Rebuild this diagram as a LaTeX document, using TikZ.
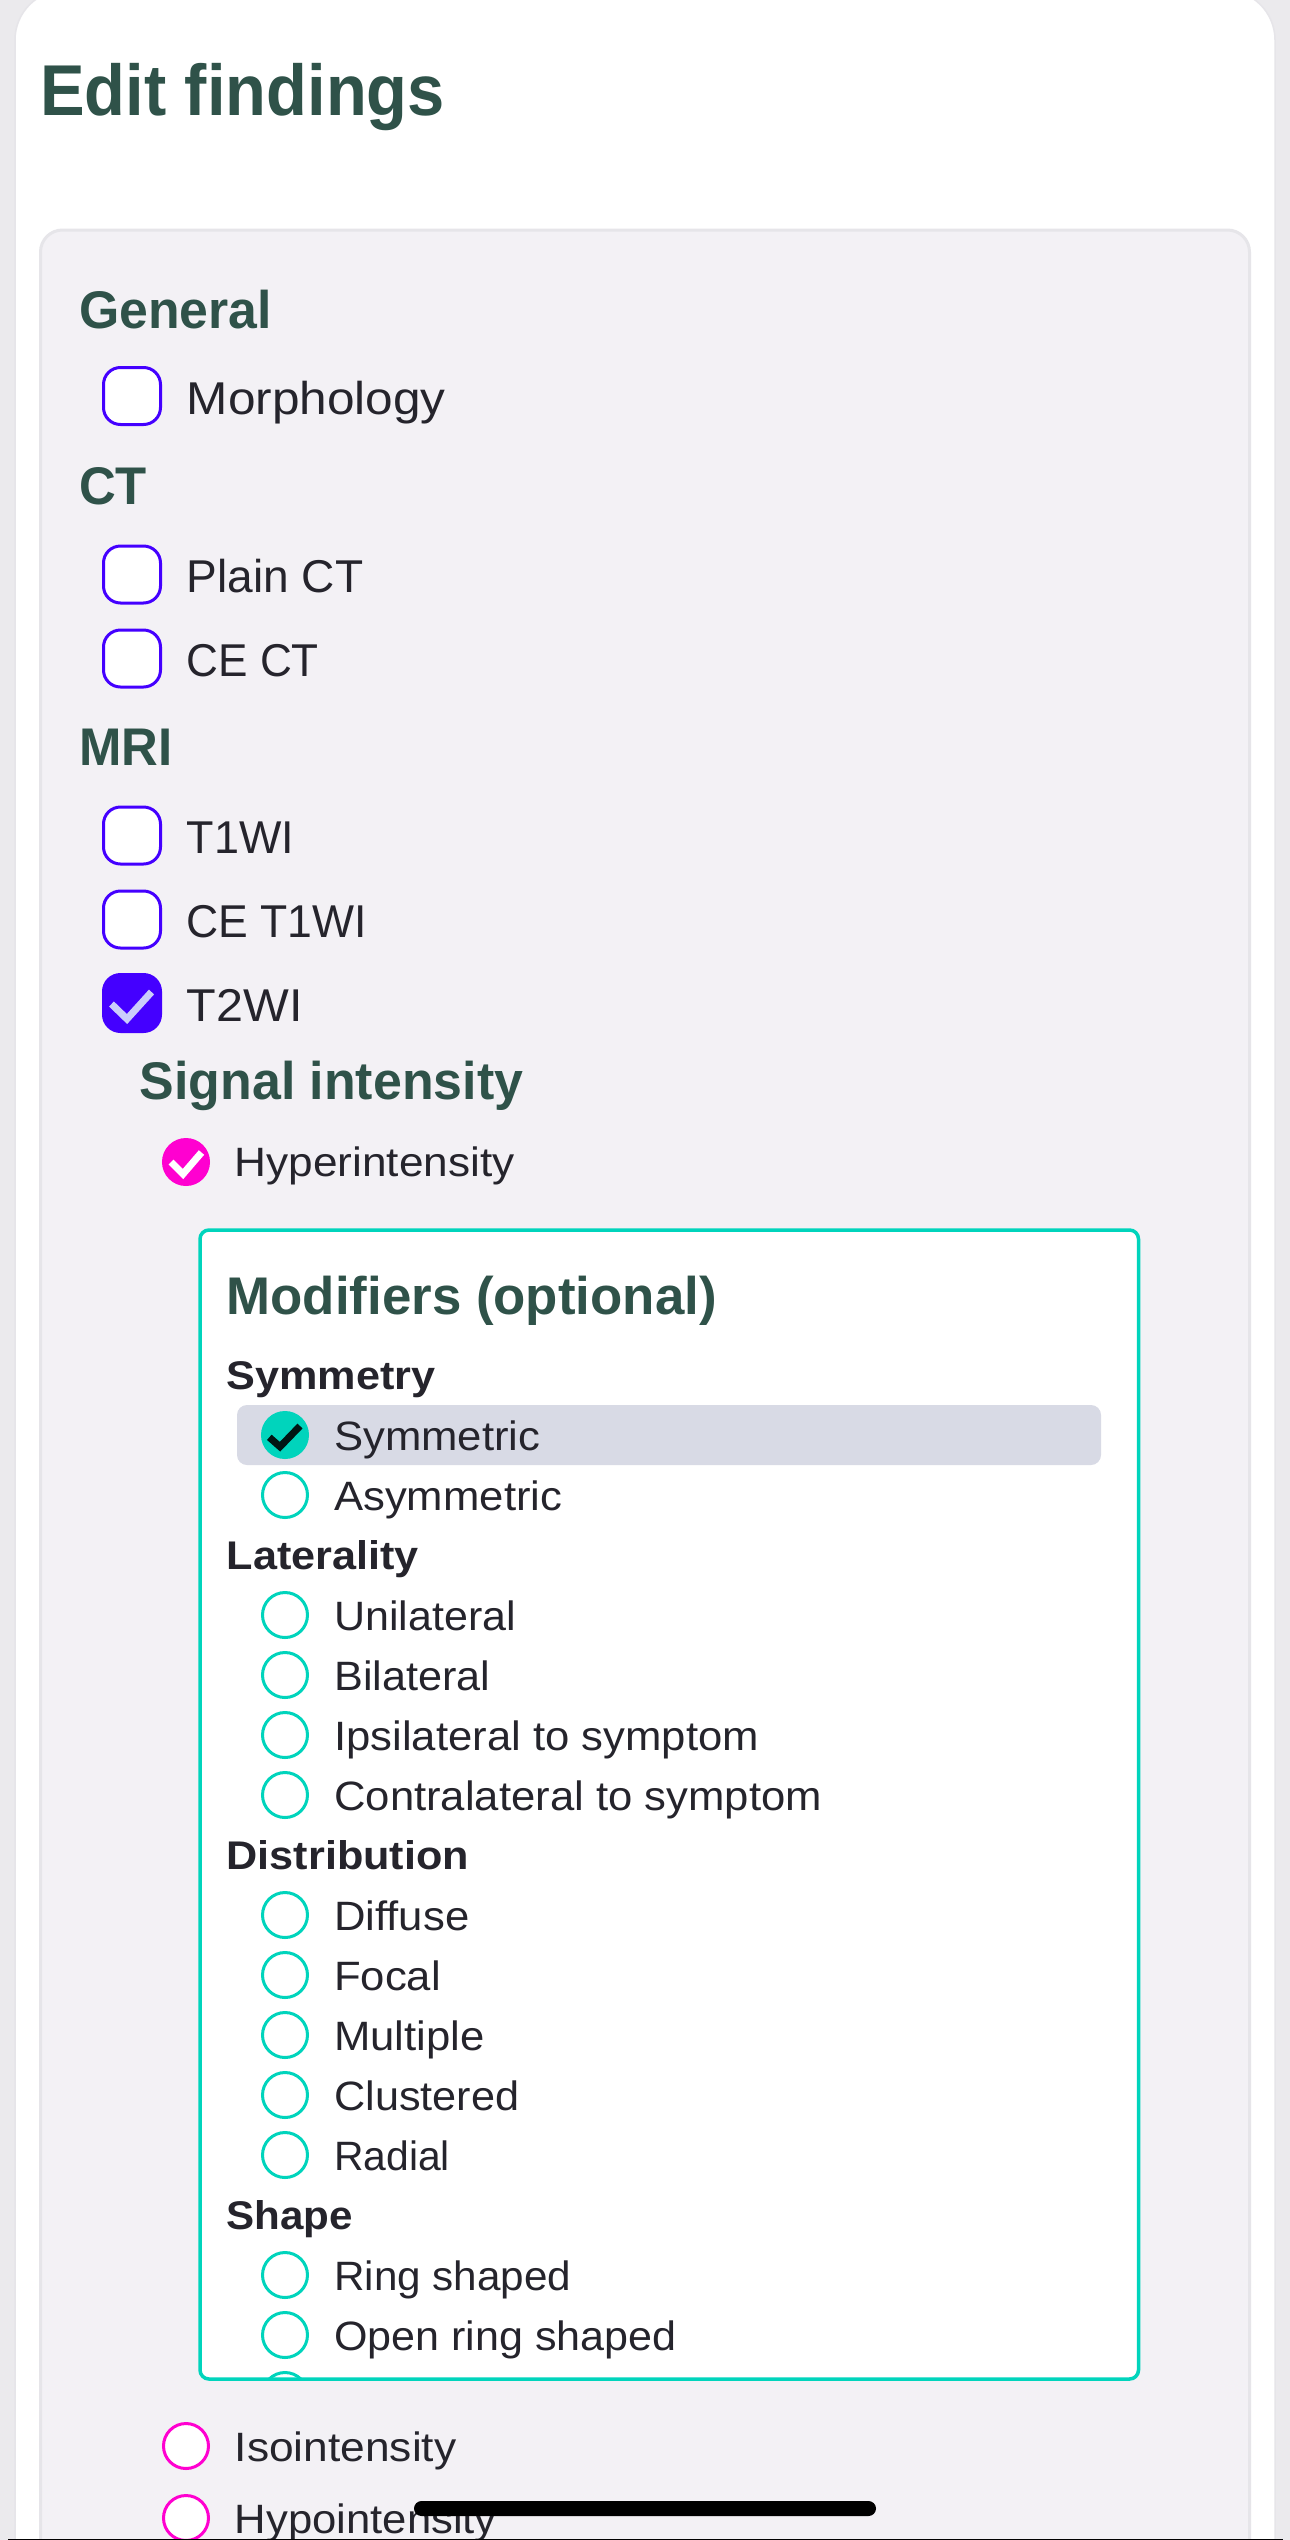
\documentclass[tikz,border=0pt]{standalone}
\usepackage{fontspec}
\setmainfont{Liberation Sans}
\newfontfamily\regf[FakeStretch=1.065]{Liberation Sans}
\newfontfamily\headf[FakeStretch=.96]{Liberation Sans}
\newfontfamily\subf[FakeStretch=1.08]{Liberation Sans}
\definecolor{pagebg}{HTML}{EBEAED}
\definecolor{panelbg}{HTML}{F3F1F5}
\definecolor{panelline}{HTML}{E6E5E9}
\definecolor{headgreen}{HTML}{2F5249}
\definecolor{txt}{HTML}{25242C}
\definecolor{indigo}{HTML}{4400FF}
\definecolor{lav}{HTML}{CBCDFB}
\definecolor{mag}{HTML}{FF00D0}
\definecolor{teal}{HTML}{00D4BC}
\definecolor{hilite}{HTML}{D8DAE5}
\tikzset{
  x=1pt,y=-1pt,
  xs/.style={xscale=#1,transform shape},
  title/.style={anchor=base west,inner sep=0pt,text=headgreen,font=\headf\bfseries\fontsize{72}{72}\selectfont},
  head/.style={anchor=base west,inner sep=0pt,text=headgreen,font=\headf\bfseries\fontsize{53}{53}\selectfont},
  subhead/.style={anchor=base west,inner sep=0pt,text=txt,font=\subf\bfseries\fontsize{40}{40}\selectfont},
  biglabel/.style={anchor=base west,inner sep=0pt,text=txt,font=\regf\fontsize{46}{46}\selectfont},
  smalllabel/.style={anchor=base west,inner sep=0pt,text=txt,font=\regf\fontsize{41}{41}\selectfont},
  checkbox/.style={draw=indigo,line width=3pt,fill=white,rounded corners=17pt,minimum width=57pt,minimum height=57pt,inner sep=0pt,outer sep=0pt},
  checkedbox/.style={checkbox,fill=indigo},
  magradio/.style={circle,draw=mag,line width=3pt,fill=white,minimum size=45pt,inner sep=0pt,outer sep=0pt},
  magon/.style={magradio,fill=mag},
  tealradio/.style={circle,draw=teal,line width=3pt,fill=white,minimum size=45pt,inner sep=0pt,outer sep=0pt},
  tealon/.style={tealradio,fill=teal},
  tick/.style={line width=7pt,line cap=butt,line join=miter},
}
\newcommand{\radiorow}[4][]{% options, name, y centre, label
  \node[tealradio] (#2box) at (285,#3) {};
  \node[smalllabel,#1] (#2) at (334,#3+15) {#4};
}
\begin{document}
\begin{tikzpicture}
\useasboundingbox (0,0) rectangle (1290,2540);
\fill[pagebg] (0,0) rectangle (1290,2540);
% card
\path[fill=white,draw=panelline,line width=1.5pt,rounded corners=50pt] (15,-10) rectangle (1275,2600);
% panel
\path[fill=panelbg,draw=panelline,line width=3pt,rounded corners=22pt] (40.5,230) rectangle (1249.5,2600);

\node[title,xs=.967] (edit) at (40,115) {Edit findings};

\node[head,xs=1.017] (general) at (79,328) {General};
\node[checkbox] (morphbox) at (132,396) {};
\node[biglabel,xs=1.012] (morph) at (186.5,414.5) {Morphology};

\node[head] (ct) at (79,504.5) {CT};
\node[checkbox] (plainbox) at (132,574.5) {};
\node[biglabel,xs=.94] (plain) at (186.5,592.5) {Plain CT};
\node[checkbox] (cebox) at (132,658.5) {};
\node[biglabel,xs=.9] (cect) at (186.5,676.5) {CE CT};

\node[head] (mri) at (79,765.5) {MRI};
\node[checkbox] (t1box) at (132,835.5) {};
\node[biglabel,xs=.917] (t1) at (186.5,853.5) {T1WI};
\node[checkbox] (cet1box) at (132,919.5) {};
\node[biglabel,xs=.908] (cet1) at (186.5,937.5) {CE T1WI};
\node[checkedbox] (t2box) at (132,1003) {};
\node[biglabel,xs=.99] (t2) at (186.5,1021) {T2WI};
\draw[tick,draw=lav] ([shift={(-20.5,1)}]t2box.center) -- ([shift={(-5,16)}]t2box.center) -- ([shift={(19.5,-11)}]t2box.center);

\node[head,xs=1.02] (signal) at (139.5,1099) {Signal intensity};
\node[magon] (hyperbox) at (186,1162) {};
\draw[tick,draw=white] ([shift={(-15,0)}]hyperbox.center) -- ([shift={(-3,12)}]hyperbox.center) -- ([shift={(15.5,-9.5)}]hyperbox.center);
\node[smalllabel,xs=1.012] (hyper) at (234.5,1176.5) {Hyperintensity};

% modifiers panel
\path[fill=white] (200,1230) [rounded corners=9pt] rectangle (1138.5,2379);
\begin{scope}
  \clip (200,1230) rectangle (1138.5,2379);
  \node[tealradio] (clippedbox) at (285,2395) {};
\end{scope}
\path[draw=teal,line width=3.5pt,rounded corners=9pt] (200,1230) rectangle (1138.5,2379);

\node[head,xs=1.038] (mods) at (226.5,1314) {Modifiers (optional)};
\node[subhead] (sym) at (226.5,1389) {Symmetry};
\path[fill=hilite,rounded corners=10pt] (237,1405) rectangle (1101,1465);
\node[tealon] (symmbox) at (285,1435) {};
\draw[tick,draw=black!90!teal] ([shift={(-15.7,2.3)}]symmbox.center) -- ([shift={(-5,11.7)}]symmbox.center) -- ([shift={(15,-9)}]symmbox.center);
\node[smalllabel] (symm) at (334,1450) {Symmetric};
\radiorow{asym}{1495}{Asymmetric}

\node[subhead] (lat) at (226.5,1569) {Laterality};
\radiorow[xs=.985]{uni}{1615}{Unilateral}
\radiorow[xs=.99]{bi}{1675}{Bilateral}
\radiorow{ipsi}{1735}{Ipsilateral to symptom}
\radiorow{contra}{1795}{Contralateral to symptom}

\node[subhead] (dist) at (226.5,1869) {Distribution};
\radiorow{diffuse}{1915}{Diffuse}
\radiorow{focal}{1975}{Focal}
\radiorow{multiple}{2035}{Multiple}
\radiorow[xs=.99]{clustered}{2095}{Clustered}
\radiorow[xs=.935]{radial}{2155}{Radial}

\node[subhead,xs=.975] (shape) at (226.5,2229) {Shape};
\radiorow[xs=.967]{ring}{2275}{Ring shaped}
\radiorow[xs=.986]{open}{2335}{Open ring shaped}

\node[magradio] (isobox) at (186,2446) {};
\node[smalllabel,xs=1.015] (iso) at (234.5,2461) {Isointensity};
\node[magradio] (hypobox) at (186,2518) {};
\node[smalllabel] (hypo) at (234.5,2533) {Hypointensity};

% home indicator and bottom rule
\path[fill=black,rounded corners=7.5pt] (414,2501) rectangle (876,2516);
\fill[black] (8,2538.5) rectangle (1283,2540);
\end{tikzpicture}
\end{document}
